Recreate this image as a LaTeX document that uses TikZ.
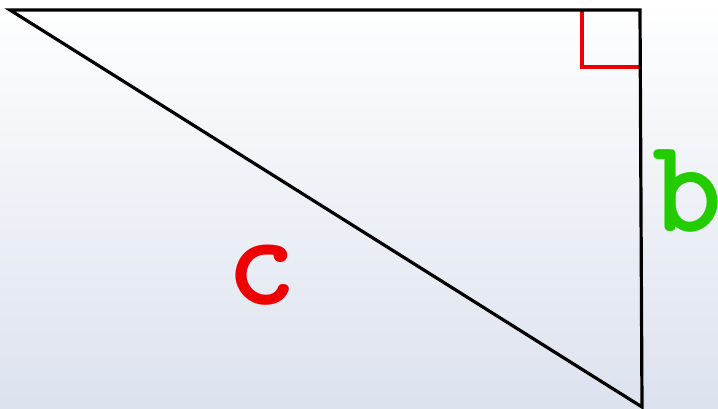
\documentclass[tikz,border=0pt]{standalone}
\usepackage{fontspec}
\definecolor{sidegreen}{HTML}{22CC00}
\definecolor{sidered}{HTML}{EE0000}
\definecolor{bglow}{HTML}{DCE2EE}
\tikzset{
  side/.style={line width=3.2pt, black, line join=miter},
  rightmark/.style={line width=3.2pt, sidered},
  sidelabel/.style={font=\ttfamily\bfseries\fontsize{134}{134}\selectfont, inner sep=0pt, anchor=base},
}
\begin{document}
\begin{tikzpicture}[x=1pt, y=-1pt]
    \shade[top color=white, bottom color=bglow] (0,0) rectangle (718,409);
    \useasboundingbox (0,0) rectangle (718,409);
    \coordinate (A) at (10,10);
    \coordinate (C) at (640,10);
    \coordinate (B) at (642,407);
    \coordinate (m1) at (582,10);
    \coordinate (m2) at (582,67);
    \coordinate (m3) at (640,67);
    \draw[rightmark] (m1) -- (m2) -- (m3);
    \draw[side] (A) -- (C) -- (B) -- cycle;
    \node[sidelabel, text=sidegreen] (lb) at (688,231) {b};
    \node[sidelabel, text=sidered] (lc) at (262,304) {c};
  \end{tikzpicture}
\end{document}
